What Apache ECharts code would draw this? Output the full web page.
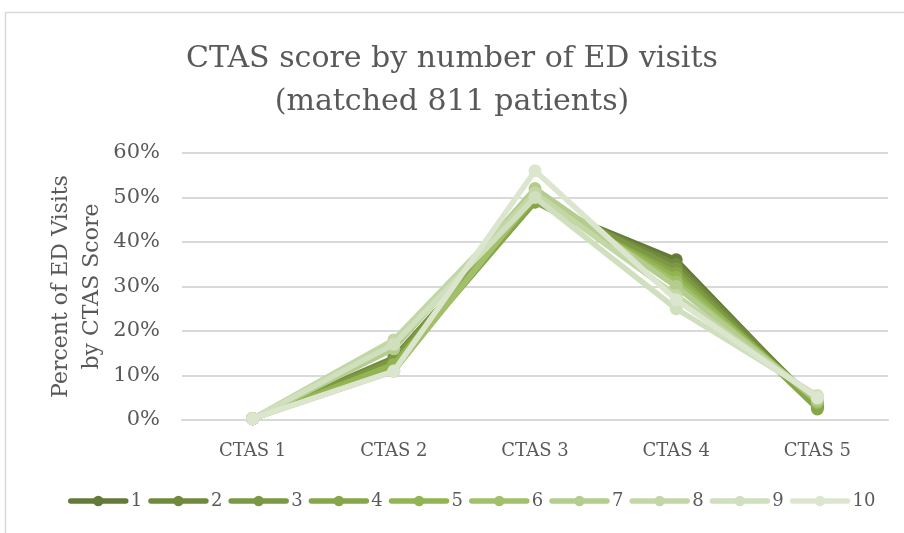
<!DOCTYPE html>
<html>
<head>
<meta charset="utf-8">
<script src="https://cdn.jsdelivr.net/npm/echarts@6/dist/echarts.min.js"></script>
<style>
  html, body { margin: 0; padding: 0; background: #fff; }
  #chart { width: 904px; height: 533px; }
</style>
</head>
<body>
<div id="chart"></div>
<script>
// categories and tick labels
const categories = ['CTAS 1', 'CTAS 2', 'CTAS 3', 'CTAS 4', 'CTAS 5']
const seriesNames = ['1', '2', '3', '4', '5', '6', '7', '8', '9', '10']

// percent of ED visits per CTAS score, one array per visit count
const visits1 = [0.3, 13.0, 49.0, 36.0, 3.0]
const visits2 = [0.3, 14.0, 49.5, 35.0, 3.5]
const visits3 = [0.3, 13.5, 50.0, 34.0, 3.0]
const visits4 = [0.3, 12.0, 49.0, 33.0, 2.5]
const visits5 = [0.3, 12.5, 50.0, 32.0, 4.0]
const visits6 = [0.3, 11.0, 50.5, 31.0, 4.0]
const visits7 = [0.3, 16.0, 52.0, 30.0, 4.5]
const visits8 = [0.3, 18.0, 51.0, 28.0, 5.0]
const visits9 = [0.3, 17.0, 50.0, 25.0, 5.5]
const visits10 = [0.3, 11.0, 56.0, 27.0, 5.0]

const allData = [visits1, visits2, visits3, visits4, visits5, visits6, visits7, visits8, visits9, visits10]
const colors = ['#647a37', '#70893d', '#7c9843', '#87a649', '#93b452',
                '#a2c06a', '#b4cd8e', '#c3d6a6', '#d0dfbd', '#dce6cf']

const font = 'DejaVu Serif'
const textColor = '#595959'

const chart = echarts.init(document.getElementById('chart'))

const series = allData.map((d, i) => ({
  name: seriesNames[i],
  type: 'line',
  data: d,
  symbol: 'circle',
  symbolSize: 13,
  lineStyle: { width: 5.5, color: colors[i], cap: 'round', join: 'round' },
  itemStyle: { color: colors[i] },
  z: 2 + i
}))

chart.setOption({
  animation: false,
  color: colors,
  // chart frame
  graphic: [{
    type: 'rect',
    shape: { x: 5.5, y: 12.5, width: 920, height: 540 },
    style: { fill: null, stroke: '#d9d9d9', lineWidth: 1.5 },
    silent: true
  }],
  title: {
    text: 'CTAS score by number of ED visits\n(matched 811 patients)',
    left: 'center',
    top: 33,
    textStyle: {
      fontFamily: font,
      fontSize: 30,
      fontWeight: 'normal',
      color: textColor,
      lineHeight: 43
    }
  },
  legend: {
    bottom: 18,
    left: 63,
    itemWidth: 55,
    itemHeight: 13,
    itemGap: 6,
    lineStyle: { width: 5.5, cap: 'round' },
    textStyle: { fontFamily: font, fontSize: 18, color: textColor },
    data: seriesNames
  },
  grid: { left: 182, right: 16, top: 153, bottom: 113 },
  xAxis: {
    type: 'category',
    data: categories,
    boundaryGap: true,
    axisLine: { show: true, lineStyle: { color: '#d9d9d9', width: 2 } },
    axisTick: { show: false },
    axisLabel: { fontFamily: font, fontSize: 18, color: textColor, margin: 22 }
  },
  yAxis: {
    type: 'value',
    min: 0,
    max: 60,
    interval: 10,
    name: 'Percent of ED Visits\nby CTAS Score',
    nameLocation: 'middle',
    nameGap: 74,
    nameMoveOverlap: false,
    nameRotate: 90,
    nameTextStyle: { fontFamily: font, fontSize: 22, color: textColor, lineHeight: 31 },
    axisLine: { show: false },
    axisTick: { show: false },
    axisLabel: { fontFamily: font, fontSize: 21, color: textColor, margin: 22, formatter: '{value}%' },
    splitLine: { lineStyle: { color: '#d9d9d9', width: 2 } }
  },
  series
})
</script>
</body>
</html>
